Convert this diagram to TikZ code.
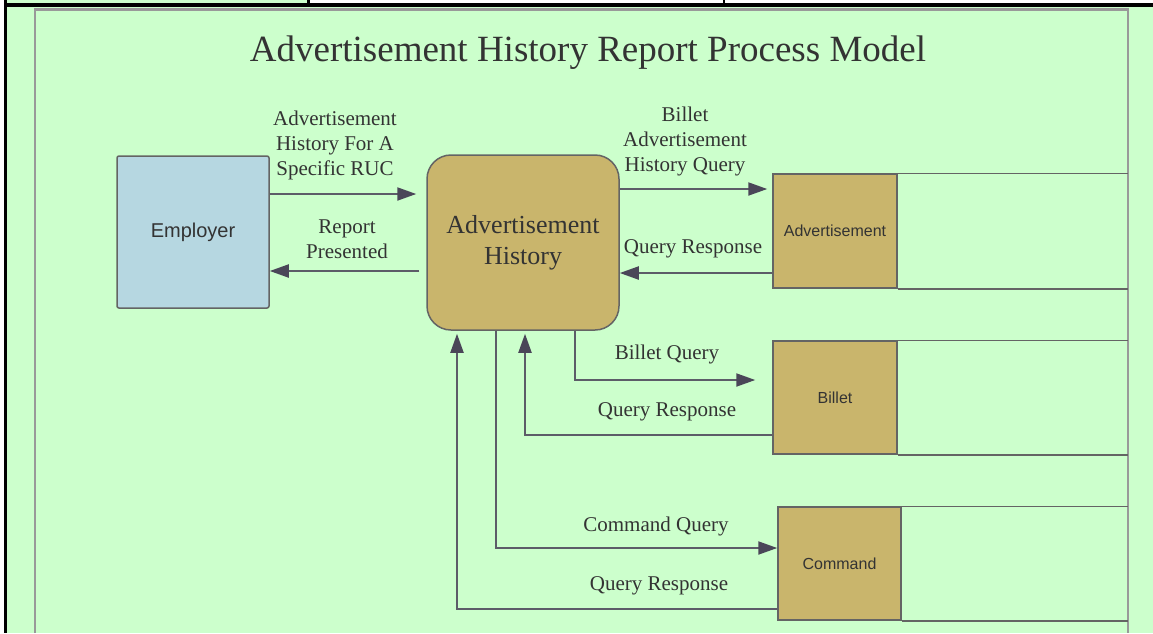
\documentclass[tikz,border=0pt]{standalone}
\usepackage{fontspec}
\setmainfont{Liberation Serif}
\newfontfamily\sansf{Liberation Sans}
\usetikzlibrary{arrows.meta}
\definecolor{bgG}{HTML}{CCFFCC}
\definecolor{tanF}{HTML}{C9B56C}
\definecolor{blueF}{HTML}{B6D7E1}
\definecolor{bordC}{HTML}{646464}
\definecolor{arrC}{HTML}{5C5C68}
\definecolor{headC}{HTML}{4A4658}
\definecolor{txtC}{HTML}{333333}
\definecolor{frameC}{HTML}{999999}
\tikzset{
  lbl/.style={font=\fontsize{21}{25}\selectfont, text=txtC, align=center, inner sep=0pt},
  proc/.style={draw=bordC, line width=1.5pt, fill=tanF, rounded corners=24pt,
    minimum width=192pt, minimum height=175pt, inner sep=0pt, align=center,
    text=txtC, font=\fontsize{26}{31}\selectfont},
  store/.style={draw=bordC, line width=1.5pt, fill=tanF, minimum width=124pt,
    minimum height=114pt, inner sep=0pt, text=txtC, font=\sansf\fontsize{16}{19}\selectfont},
  extent/.style={draw=bordC, line width=1.5pt, fill=blueF, rounded corners=2pt,
    minimum width=152pt, minimum height=152pt, inner sep=0pt, text=txtC,
    font=\sansf\fontsize{20}{24}\selectfont},
  arr/.style={draw=arrC, line width=2pt, -{Triangle[length=19pt,width=13pt,color=headC]}},
  openl/.style={draw=bordC, line width=1.5pt}
}
\begin{document}
\begin{tikzpicture}[x=1pt,y=-1pt]
\useasboundingbox (0,0) rectangle (1153,633);
% page / table frame
\fill[white] (0,0) rectangle (1153,633);
\fill[bgG] (7,7) rectangle (1153,633);
\fill[bgG] (7,0) rectangle (307,3);
\fill[black] (4,3) rectangle (1153,7);
\fill[black] (4,0) rectangle (7,633);
\fill[black] (307,0) rectangle (310,3);
\fill[black] (723,0) rectangle (725,3);
\draw[frameC, line width=2.5pt] (35,633) -- (35,9.5) -- (1128,9.5) -- (1128,633);

% title
\node[font=\fontsize{37}{44}\selectfont, text=txtC, anchor=base, inner sep=0pt] (title) at (588,61) {Advertisement History Report Process Model};

% nodes
\node[extent] (emp) at (193,232) {Employer};
\node[proc] (ah) at (523,242.5) {Advertisement\\History};
\node[store] (advs) at (835,231) {Advertisement};
\node[store, minimum height=113pt] (bil) at (835,397.5) {Billet};
\node[store, minimum width=123pt, minimum height=113pt] (cmd) at (839.5,563.5) {Command};

% open-ended data store lines
\draw[openl] (advs.north east) -- (advs.north east -| 1128,0);
\draw[openl] (advs.south east) -- (advs.south east -| 1128,0);
\draw[openl] (bil.north east) -- (bil.north east -| 1128,0);
\draw[openl] (bil.south east) -- (bil.south east -| 1128,0);
\draw[openl] (cmd.north east) -- (cmd.north east -| 1128,0);
\draw[openl] (cmd.south east) -- (cmd.south east -| 1128,0);

% connectors
\draw[arr, shorten >=10pt] (emp.east |- 0,194) -- (ah.west |- 0,194);
\draw[arr, shorten <=7pt] (ah.west |- 0,271) -- (emp.east |- 0,271);
\draw[arr, shorten >=5pt] (ah.east |- 0,189) -- (advs.west |- 0,189);
\draw[arr] (advs.west |- 0,273) -- (ah.east |- 0,273);
\draw[arr, shorten >=17pt] (ah.south -| 575,0) |- (bil.west |- 0,380);
\draw[arr, shorten >=3pt] (bil.west |- 0,435) -| (ah.south -| 525,0);
\draw[arr] (ah.south -| 496,0) |- (cmd.west |- 0,548);
\draw[arr, shorten >=3pt] (cmd.west |- 0,609) -| (ah.south -| 457,0);

% labels
\node[lbl] (l1) at (335,145) {Advertisement\\History For A\\Specific RUC};
\node[lbl] (l2) at (347,239) {Report\\Presented};
\node[lbl] (l3) at (685,141) {Billet\\Advertisement\\History Query};
\node[lbl] (l4) at (693,249) {Query Response};
\node[lbl] (l5) at (667,354) {Billet Query};
\node[lbl] (l6) at (667,412) {Query Response};
\node[lbl] (l7) at (656,526) {Command Query};
\node[lbl] (l8) at (659,586) {Query Response};
\end{tikzpicture}
\end{document}
